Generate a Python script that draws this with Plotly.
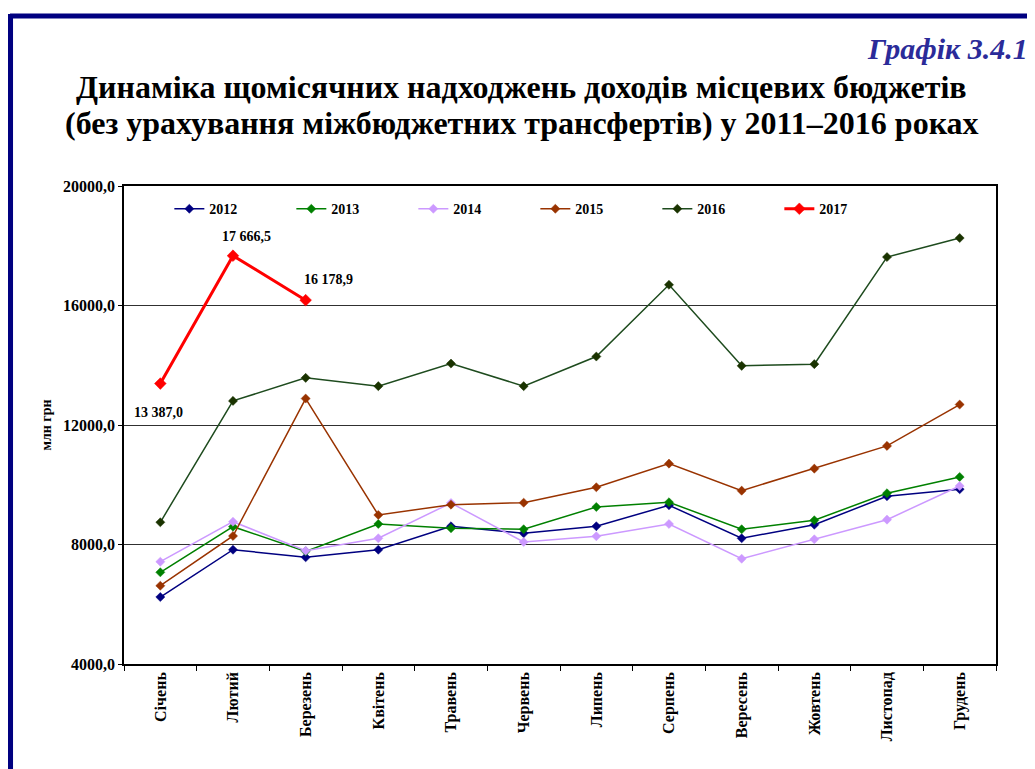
import plotly.graph_objects as go

months = ["Січень", "Лютий", "Березень", "Квітень", "Травень", "Червень",
          "Липень", "Серпень", "Вересень", "Жовтень", "Листопад", "Грудень"]

y2012 = [6241, 7826, 7571, 7826, 8610, 8375, 8610, 9313, 8208, 8663, 9615, 9849]
y2013 = [7069, 8596, 7770, 8687, 8543, 8509, 9256, 9414, 8509, 8811, 9715, 10261]
y2014 = [7424, 8764, 7792, 8208, 9390, 8084, 8275, 8687, 7524, 8174, 8831, 9960]
y2015 = [6620, 8285, 12885, 8988, 9333, 9400, 9916, 10707, 9802, 10539, 11300, 12684]
y2016 = [8744, 12807, 13578, 13300, 14057, 13300, 14292, 16693, 13980, 14037, 17621, 18258]
y2017 = [13387.0, 17666.5, 16178.9]

series = [
    ("2012", y2012, "#000080", "#000080", 1.5, 7),
    ("2013", y2013, "#008000", "#008000", 1.5, 7),
    ("2014", y2014, "#CC99FF", "#CC99FF", 1.5, 7),
    ("2015", y2015, "#993300", "#993300", 1.5, 7),
    ("2016", y2016, "#1E4B1E", "#1A3300", 1.5, 7),
    ("2017", y2017, "#FF0000", "#FF0000", 3, 9),
]

font_family = "Liberation Serif, Times New Roman, serif"

fig = go.Figure()
for name, vals, lc, mc, lw, ms in series:
    fig.add_trace(go.Scatter(
        x=months[:len(vals)], y=vals, name=name, mode="lines+markers",
        line=dict(color=lc, width=lw),
        marker=dict(symbol="diamond", size=ms, color=mc,
                    line=dict(color=mc, width=0.5)),
    ))

def fmt(v):
    s = f"{v:,.1f}"
    return s.replace(",", " ").replace(".", ",")

label_shifts = [(-2, -29), (13, 19), (23, 21)]
for i, v in enumerate(y2017):
    dx, dy = label_shifts[i]
    fig.add_annotation(x=months[i], y=v, text=fmt(v), showarrow=False,
                       xshift=dx, yshift=dy,
                       font=dict(family=font_family, size=14, color="black", weight="bold"))

fig.add_annotation(xref="paper", yref="paper", x=1.039, y=1.2887,
                   xanchor="right", yanchor="middle",
                   text="<b><i>Графік 3.4.1</i></b>", showarrow=False,
                   font=dict(family=font_family, size=30, color="#2B2B99"))

title_lines = ["Динаміка щомісячних надходжень доходів місцевих бюджетів",
               "(без урахування міжбюджетних трансфертів) у 2011–2016 роках"]
for yy, line in zip([1.2068, 1.1315], title_lines):
    fig.add_annotation(xref="paper", yref="paper", x=0.4564, y=yy,
                       xanchor="center", yanchor="middle",
                       text=f"<b>{line}</b>", showarrow=False,
                       font=dict(family=font_family, size=32, color="black"))

# navy frame
fig.add_shape(type="line", xref="paper", yref="paper",
              x0=-0.1307, x1=1.06, y0=1.3556, y1=1.3556,
              line=dict(color="#000080", width=5))
fig.add_shape(type="line", xref="paper", yref="paper",
              x0=-0.1307, x1=-0.1307, y0=1.36, y1=-0.3,
              line=dict(color="#000080", width=6))

fig.update_layout(
    width=1027, height=761,
    margin=dict(l=116, r=39, t=178, b=105),
    paper_bgcolor="white", plot_bgcolor="white",
    font=dict(family=font_family, color="black"),
    showlegend=True,
    legend=dict(orientation="h", x=0.052, y=0.985, xanchor="left", yanchor="top",
                entrywidth=77, entrywidthmode="pixels",
                font=dict(family=font_family, size=14, color="black", weight="bold"),
                bgcolor="rgba(0,0,0,0)", itemwidth=30, tracegroupgap=0),
    xaxis=dict(type="category", categoryorder="array", categoryarray=months,
               range=[-0.5, len(months) - 0.5],
               showline=True, linecolor="black", linewidth=1.5, mirror=True,
               ticks="outside", ticklen=5, tickcolor="black", tickson="boundaries",
               tickangle=-90, showgrid=False,
               tickfont=dict(family=font_family, size=16, color="black", weight="bold")),
    yaxis=dict(range=[4000, 20000], dtick=4000, tick0=4000, tickformat=".1f",
               showline=True, linecolor="black", linewidth=1.5, mirror=True,
               ticks="outside", ticklen=4, tickcolor="black",
               showgrid=True, gridcolor="#303030", gridwidth=1, zeroline=False,
               title=dict(text="млн грн", standoff=8,
                          font=dict(family=font_family, size=14, color="black", weight="bold")),
               tickfont=dict(family=font_family, size=16, color="black", weight="bold")),
    separators=", ",
)

fig.write_html("out.html")
